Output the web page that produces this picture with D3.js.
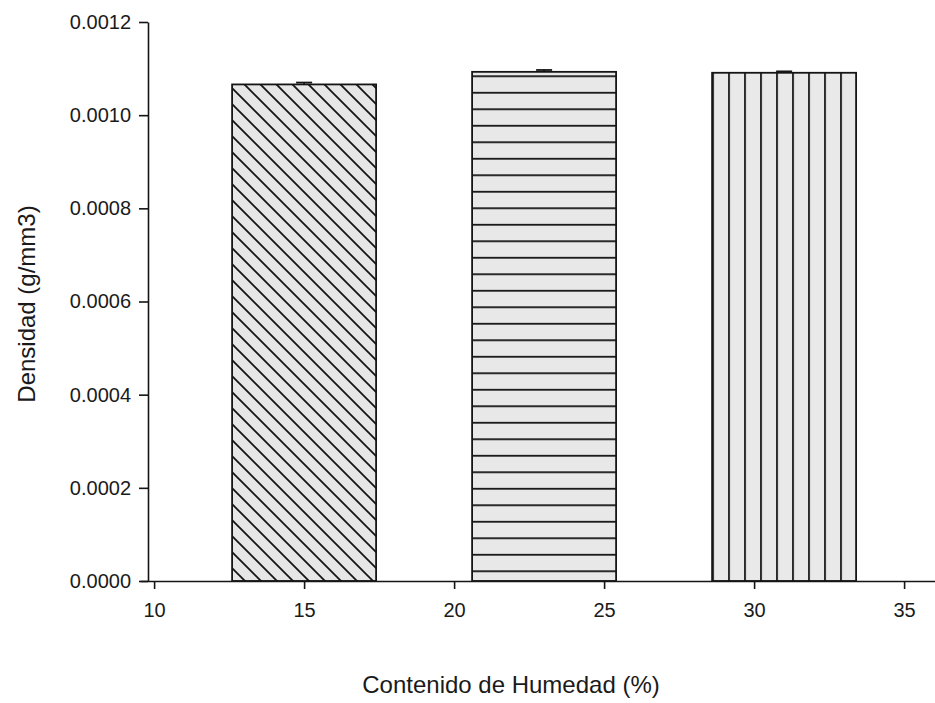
<!DOCTYPE html>
<html>
<head>
<meta charset="utf-8">
<script src="https://cdn.jsdelivr.net/npm/d3@7"></script>
<style>
  body { margin: 0; background: #fff; }
  text { font-family: "Liberation Sans", Arial, sans-serif; fill: #1a1a1a; }
</style>
</head>
<body>
<script>
// humidity content (%) -> density
var humedad = [15, 23, 31];
var densidad = [0.001066, 0.001093, 0.001091];
var errores = [0.000004, 0.000004, 0.000003];
var patrones = ['diag', 'horiz', 'vert'];
var yTicks = [0, 0.0002, 0.0004, 0.0006, 0.0008, 0.0010, 0.0012];
var xTicks = [10, 15, 20, 25, 30, 35];
var barWidth = 4.8; // in x units

function main(){
    var svg = d3.select('body')
        .append('svg')
        .attr('width', 935)
        .attr('height', 703);

    var x = d3.scaleLinear().domain([9.53, 36.03]).range([140, 935]);
    var y = d3.scaleLinear().domain([0, 0.0012]).range([581, 22]);

    var defs = svg.append('defs');
    var ink = '#151515';

    // hatch patterns
    var pd = defs.append('pattern')
        .attr('id', 'diag')
        .attr('patternUnits', 'userSpaceOnUse')
        .attr('width', 16).attr('height', 16);
    pd.append('rect').attr('width', 16).attr('height', 16).attr('fill', '#e6e6e6');
    pd.append('path')
        .attr('d', 'M-4,-4 L20,20 M-4,12 L4,20 M12,-4 L20,4')
        .attr('stroke', ink).attr('stroke-width', 1.8);

    var ph = defs.append('pattern')
        .attr('id', 'horiz')
        .attr('patternUnits', 'userSpaceOnUse')
        .attr('y', y(densidad[1]) + 3.5)
        .attr('width', 16).attr('height', 16.5);
    ph.append('rect').attr('width', 16).attr('height', 16.5).attr('fill', '#e8e8e8');
    ph.append('line')
        .attr('x1', 0).attr('x2', 16).attr('y1', 0.9).attr('y2', 0.9)
        .attr('stroke', ink).attr('stroke-width', 1.8);

    var pv = defs.append('pattern')
        .attr('id', 'vert')
        .attr('patternUnits', 'userSpaceOnUse')
        .attr('x', x(humedad[2] - barWidth / 2))
        .attr('width', 16).attr('height', 16);
    pv.append('rect').attr('width', 16).attr('height', 16).attr('fill', '#e9e9e9');
    pv.append('line')
        .attr('x1', 0.9).attr('x2', 0.9).attr('y1', 0).attr('y2', 16)
        .attr('stroke', ink).attr('stroke-width', 1.8);

    // bars
    svg.selectAll('.bar')
        .data(humedad)
        .enter().append('rect')
        .attr('class', 'bar')
        .attr('x', function(d){ return x(d - barWidth / 2); })
        .attr('width', function(d){ return x(d + barWidth / 2) - x(d - barWidth / 2); })
        .attr('y', function(d, i){ return y(densidad[i]); })
        .attr('height', function(d, i){ return y(0) - y(densidad[i]); })
        .attr('fill', function(d, i){ return 'url(#' + patrones[i] + ')'; })
        .attr('stroke', ink)
        .attr('stroke-width', 1.8);

    // error bars
    var eb = svg.selectAll('.err')
        .data(humedad)
        .enter().append('g')
        .attr('class', 'err')
        .attr('stroke', ink)
        .attr('stroke-width', 1.8);
    eb.append('line')
        .attr('x1', function(d){ return x(d); })
        .attr('x2', function(d){ return x(d); })
        .attr('y1', function(d, i){ return y(densidad[i]); })
        .attr('y2', function(d, i){ return y(densidad[i] + errores[i]); });
    eb.append('line')
        .attr('x1', function(d){ return x(d) - 8; })
        .attr('x2', function(d){ return x(d) + 8; })
        .attr('y1', function(d, i){ return y(densidad[i] + errores[i]); })
        .attr('y2', function(d, i){ return y(densidad[i] + errores[i]); });

    // axes
    var xAxis = svg.append('g')
        .attr('transform', 'translate(0,' + y(0) + ')')
        .call(d3.axisBottom(x).tickValues(xTicks).tickSize(8).tickSizeOuter(0).tickPadding(14));
    var yAxis = svg.append('g')
        .attr('transform', 'translate(148,0)')
        .call(d3.axisLeft(y).tickValues(yTicks).tickSize(9).tickSizeOuter(0).tickPadding(8)
            .tickFormat(d3.format('.4f')));

    [xAxis, yAxis].forEach(function(a){
        a.select('.domain').attr('stroke', ink).attr('stroke-width', 1.6);
        a.selectAll('.tick line').attr('stroke', ink).attr('stroke-width', 1.6);
        a.selectAll('.tick text')
            .style('font-family', '"Liberation Sans", Arial, sans-serif')
            .style('font-size', '20px')
            .attr('fill', '#1a1a1a');
    });

    // axis titles
    svg.append('text')
        .attr('x', 511)
        .attr('y', 693)
        .attr('text-anchor', 'middle')
        .style('font-size', '24px')
        .text('Contenido de Humedad (%)');

    svg.append('text')
        .attr('transform', 'translate(35,304) rotate(-90)')
        .attr('text-anchor', 'middle')
        .style('font-size', '24px')
        .text('Densidad (g/mm3)');
}
main();
</script>
</body>
</html>
